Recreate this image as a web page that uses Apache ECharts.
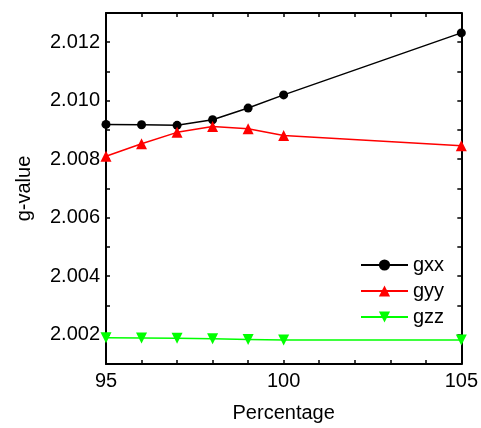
<!DOCTYPE html>
<html><head><meta charset="utf-8">
<script src="https://cdn.jsdelivr.net/npm/echarts@6/dist/echarts.min.js"></script>
<style>html,body{margin:0;padding:0;background:#fff}#c{width:481px;height:428px}</style>
</head><body><div id="c"></div>
<script>
const percentages = [95, 96, 97, 98, 99, 100, 105];
const gxx = [2.00919, 2.00918, 2.00916, 2.00935, 2.00975, 2.01020, 2.01232];
const gyy = [2.00810, 2.00853, 2.00892, 2.00912, 2.00904, 2.00881, 2.00846];
const gzz = [2.00190, 2.00189, 2.00188, 2.00186, 2.00184, 2.00182, 2.00182];
const xTickLabels = [95, 100, 105];
const yTickLabels = ['2.002', '2.004', '2.006', '2.008', '2.010', '2.012'];

const font = 'Liberation Sans, Arial, sans-serif';
const pairs = a => percentages.map((x, i) => [x, a[i]]);
const axisBase = {
  axisLine: {show: true, onZero: false, lineStyle: {color: '#000', width: 2}},
  axisTick: {show: true, inside: true, length: 4, lineStyle: {color: '#000', width: 1.5}},
  splitLine: {show: false}
};
const chart = echarts.init(document.getElementById('c'), null, {renderer: 'canvas'});
chart.setOption({
  animation: false,
  backgroundColor: '#fff',
  grid: {left: 106, right: 18, top: 13, bottom: 59, containLabel: false},
  legend: {
    orient: 'vertical', left: 355, top: 250, itemWidth: 47, itemHeight: 14, itemGap: 6,
    textStyle: {fontFamily: font, fontSize: 20, color: '#000', lineHeight: 20},
    data: ['gxx', 'gyy', 'gzz']
  },
  xAxis: [
    Object.assign({}, axisBase, {
      type: 'value', min: 95, max: 105, interval: 1, position: 'bottom',
      name: 'Percentage', nameLocation: 'middle', nameGap: 39,
      nameTextStyle: {fontFamily: font, fontSize: 20, color: '#000'},
      axisLabel: {fontFamily: font, fontSize: 20, color: '#000', margin: 7,
        formatter: v => xTickLabels.indexOf(Math.round(v)) >= 0 ? String(Math.round(v)) : ''}
    }),
    Object.assign({}, axisBase, {
      type: 'value', min: 95, max: 105, interval: 1, position: 'top', axisLabel: {show: false}
    })
  ],
  yAxis: [
    Object.assign({}, axisBase, {
      type: 'value', min: 2.001, max: 2.013, interval: 0.001, position: 'left',
      name: 'g-value', nameLocation: 'middle', nameGap: 72, nameRotate: 90,
      nameTextStyle: {fontFamily: font, fontSize: 20, color: '#000'},
      axisLabel: {fontFamily: font, fontSize: 20, color: '#000', margin: 6,
        formatter: v => { const s = v.toFixed(3); return yTickLabels.indexOf(s) >= 0 ? s : ''; }}
    }),
    Object.assign({}, axisBase, {
      type: 'value', min: 2.001, max: 2.013, interval: 0.001, position: 'right', axisLabel: {show: false}
    })
  ],
  series: [
    {name: 'gxx', type: 'line', data: pairs(gxx), symbol: 'circle', symbolSize: 9,
      lineStyle: {color: '#000', width: 1.5}, itemStyle: {color: '#000'}},
    {name: 'gyy', type: 'line', data: pairs(gyy), symbol: 'triangle', symbolSize: 11,
      lineStyle: {color: '#ff0000', width: 1.5}, itemStyle: {color: '#ff0000'}},
    {name: 'gzz', type: 'line', data: pairs(gzz), symbol: 'triangle', symbolRotate: 180, symbolSize: 11,
      lineStyle: {color: '#00ff00', width: 1.5}, itemStyle: {color: '#00ff00'}}
  ]
});
</script></body></html>
